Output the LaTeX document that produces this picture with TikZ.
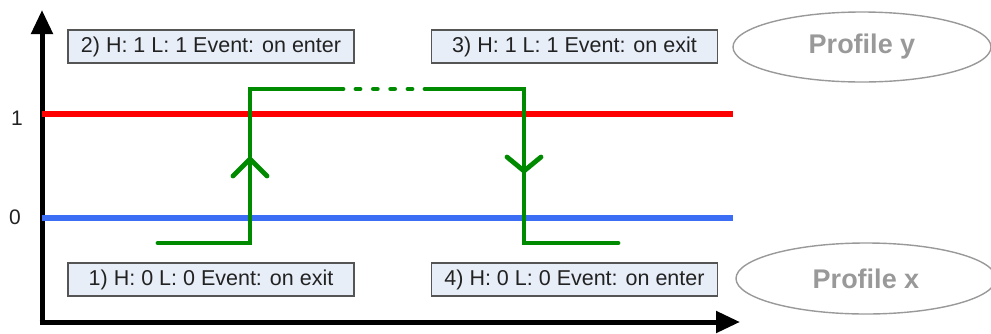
\documentclass[tikz,border=0pt]{standalone}
\usepackage{fontspec}
\setmainfont{Liberation Sans}
\usetikzlibrary{arrows.meta,shapes.geometric}
\definecolor{boxfill}{HTML}{E8EEF8}
\definecolor{boxline}{HTML}{555555}
\definecolor{txtdark}{HTML}{222222}
\definecolor{profgray}{HTML}{999999}
\definecolor{grn}{HTML}{008A00}
\definecolor{blu}{HTML}{3C6EF5}
\tikzset{
  evbox/.style={draw=boxline, line width=1.3pt, fill=boxfill, inner sep=0pt,
    minimum width=286pt, minimum height=33pt, text=txtdark,
    font=\fontsize{21.5}{24}\selectfont},
  prof/.style={ellipse, draw=profgray, line width=1.4pt, inner sep=0pt,
    minimum width=258pt, minimum height=70pt, text=profgray,
    font=\fontsize{27}{30}\selectfont\bfseries},
  ticklab/.style={text=txtdark, inner sep=0pt, font=\fontsize{21}{24}\selectfont},
  axis/.style={line width=5pt, -{Triangle[length=24pt,width=21pt]}},
  levelline/.style={line width=5.5pt},
  sig/.style={draw=grn, line width=4.8pt, line cap=round},
  chev/.style={draw=grn, line width=4.8pt, line cap=round, line join=miter},
}
\begin{document}
\begin{tikzpicture}[x=1pt,y=-1pt]
\useasboundingbox (0,0) rectangle (991,333);
% axes
\coordinate (o) at (42,322);
\coordinate (ytop) at (42,10);
\coordinate (xend) at (740,322);
\draw[axis] (o) -- (ytop);
\draw[axis] ([xshift=-2.5pt]o) -- (xend);
% level lines
\coordinate (r1) at (42,114);
\coordinate (r2) at (733,114);
\coordinate (b1) at (42,218);
\coordinate (b2) at (733,218);
\draw[levelline, red] (r1) -- (r2);
\draw[levelline, blu] (b1) -- (b2);
% tick labels
\node[ticklab] (t1) at (17,118) {1};
\node[ticklab] (t0) at (15,217) {0};
% green signal
\coordinate (g1) at (158,243);
\coordinate (g2) at (250,243);
\coordinate (g3) at (250,89);
\coordinate (g4) at (343,89);
\coordinate (d1) at (356,89);
\coordinate (d2) at (412,89);
\coordinate (g5) at (425,89);
\coordinate (g6) at (524,89);
\coordinate (g7) at (524,243);
\coordinate (g8) at (618,243);
\draw[sig] (g1) -- (g2) -- (g3) -- (g4);
\draw[sig, dash pattern=on 4pt off 13.33pt] (d1) -- (d2);
\draw[sig] (g5) -- (g6) -- (g7) -- (g8);
% chevrons
\coordinate (ua) at (233,176);
\coordinate (ut) at (250,159);
\coordinate (ub) at (267,176);
\draw[chev] (ua) -- (ut) -- (ub);
\coordinate (da) at (507,157);
\coordinate (dt) at (524,171);
\coordinate (db) at (541,157);
\draw[chev] (da) -- (dt) -- (db);
% event boxes
\node[evbox] (e2) at (211,46.5) {2) H: 1 L: 1 Event: on enter};
\node[evbox] (e3) at (574.5,46.5) {3) H: 1 L: 1 Event: on exit};
\node[evbox] (e1) at (211,279.5) {1) H: 0 L: 0 Event: on exit};
\node[evbox] (e4) at (574.5,279.5) {4) H: 0 L: 0 Event: on enter};
% profiles
\node[prof] (py) at (862,47) {Profile y};
\node[prof, minimum width=260pt, minimum height=71pt] (px) at (866,278.5) {Profile x};
\end{tikzpicture}
\end{document}
